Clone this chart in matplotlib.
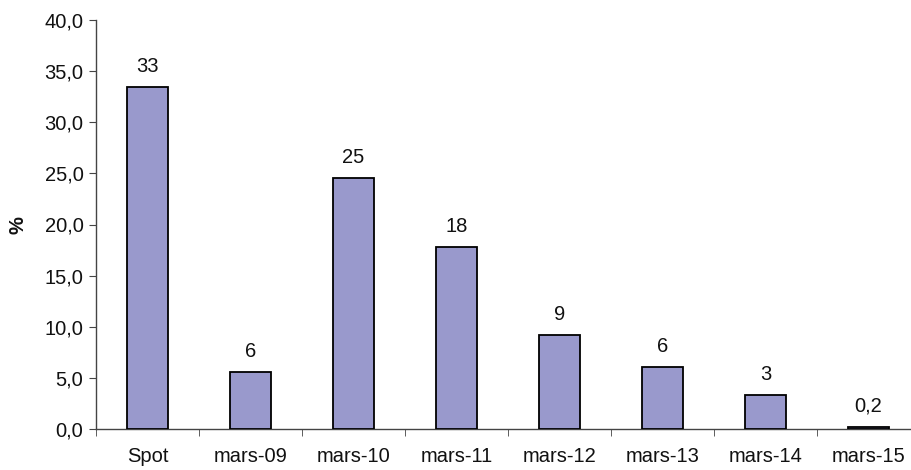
import matplotlib
matplotlib.use("Agg")
import matplotlib.pyplot as plt
import numpy as np
from matplotlib.ticker import FuncFormatter, FixedLocator

categories = ["Spot", "mars-09", "mars-10", "mars-11", "mars-12", "mars-13", "mars-14", "mars-15"]
values = [33.4, 5.6, 24.5, 17.8, 9.2, 6.1, 3.3, 0.2]
labels = ["33", "6", "25", "18", "9", "6", "3", "0,2"]
yticks = [0, 5, 10, 15, 20, 25, 30, 35, 40]

plt.rcParams['font.family'] = ['Liberation Sans', 'DejaVu Sans']

W, H = 912, 470
fig = plt.figure(figsize=(W/100, H/100), dpi=100)
ax = fig.add_axes([96/W, 41/H, 824/W, 409/H])

FS = 14.5
x = np.arange(len(categories))
ax.bar(x, values, width=0.4, color="#9999CC", edgecolor="black", linewidth=1.3, zorder=3)

for xi, v, lab in zip(x, values, labels):
    ax.annotate(lab, (xi, v), xytext=(0, 8), textcoords="offset points",
                ha="center", va="bottom", fontsize=FS, color="#111111")

ax.set_xlim(-0.5, len(categories) - 0.5)
ax.set_ylim(0, 40)
ax.set_yticks(yticks)
ax.yaxis.set_major_formatter(FuncFormatter(lambda v, p: f"{v:.1f}".replace(".", ",")))
ax.set_xticks(x)
ax.set_xticklabels(categories)
ax.xaxis.set_minor_locator(FixedLocator(np.arange(len(categories) + 1) - 0.5))
ax.tick_params(axis="x", which="major", length=0, pad=13, labelsize=FS, colors="#111111")
ax.tick_params(axis="x", which="minor", length=5, direction="out", color="#444444")
ax.tick_params(axis="y", length=5, direction="out", color="#444444", labelsize=FS, labelcolor="#111111", pad=4)

for s in ["top", "right"]:
    ax.spines[s].set_visible(False)
for s in ["left", "bottom"]:
    ax.spines[s].set_color("#444444")
    ax.spines[s].set_linewidth(1.0)

fig.text(18/W, 1 - 225/H, "%", rotation=90, ha="center", va="center", fontsize=FS, fontweight="bold", color="#111111")

fig.savefig("out.png", dpi=100)
